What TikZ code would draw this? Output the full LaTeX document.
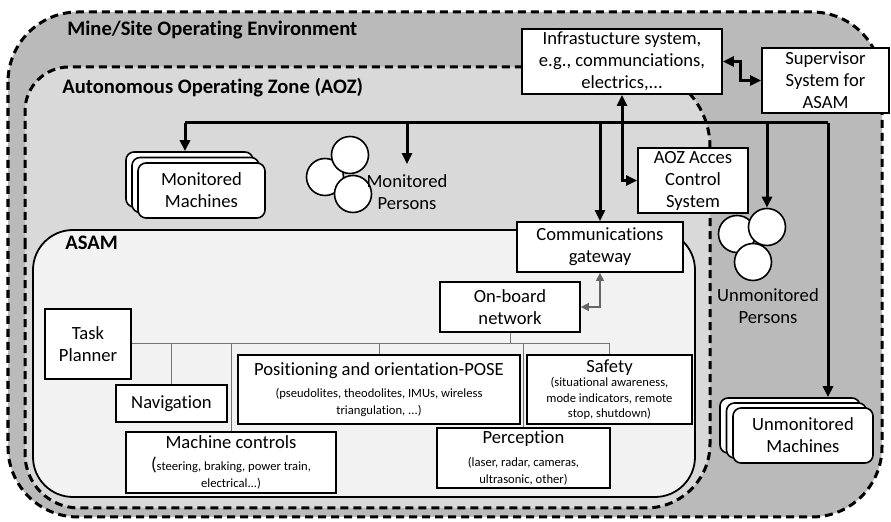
\documentclass[tikz,border=0pt]{standalone}
\usepackage{fontspec}
\setmainfont{Carlito}[Ligatures=NoCommon]
\usetikzlibrary{arrows.meta}
\newcommand\bigtxt{\fontsize{9.3}{11}\selectfont}
\newcommand\smtxt{\fontsize{6.3}{8.7}\selectfont}
\newcommand\smtxtb{\fontsize{6.3}{7.7}\selectfont}
\begin{document}
\begin{tikzpicture}[x=0.5pt,y=-0.5pt,>={Triangle[length=5.5pt,width=5pt]},font=\bigtxt,
	region/.style={line width=1.5pt,dash pattern=on 4pt off 2.5pt},
	title/.style={anchor=west,inner sep=0pt,font=\fontsize{10.3}{12}\selectfont\bfseries},
	box/.style={draw,fill=white,line width=0.9pt,align=center,inner sep=1pt},
	stack/.style={draw,fill=white,line width=0.8pt,rounded corners=4pt,align=center,minimum width=#1,minimum height=27.5pt},
	person/.style={circle,draw,fill=white,line width=0.8pt,minimum size=18.5pt,inner sep=0pt},
	bus/.style={line width=1.5pt},
	treeline/.style={black!55,line width=0.5pt},
	link/.style={black!60,line width=0.6pt,>={Triangle[length=4pt,width=4pt]}}]
	\useasboundingbox (0,0) rectangle (891,522);
	\draw[region,fill=black!27,rounded corners=35pt] (8,12) rectangle (882,517);
	\draw[region,fill=black!15] (25,300) [rounded corners=22pt] -- (25,67) [rounded corners=40pt] -- (710,67) [rounded corners=32pt] -- (710,508) [rounded corners=27pt] -- (25,508) -- cycle;
	\draw[line width=0.9pt,fill=black!5,rounded corners=20pt] (33,230) rectangle (695,497);
	\node[title] (mine) at (67,30) {Mine/Site Operating Environment};
	\node[title] (aoz) at (62,88) {Autonomous Operating Zone (AOZ)};
	\node[title] (asam) at (65,243) {ASAM};

	\node[stack=63.5pt] (mm3) at (189.5,179.5) {};
	\node[stack=63.5pt] (mm2) at (195.5,185) {};
	\node[stack=63.5pt] (mm1) at (201.5,190.5) {Monitored\\Machines};
	\node[stack=70pt] (um3) at (790,425.5) {};
	\node[stack=70pt] (um2) at (796.5,430.5) {};
	\node[stack=70pt] (um1) at (803,435.5) {Unmonitored\\Machines};

	\node[person] (mp1) at (325,177) {};
	\node[person] (mp2) at (350,155) {};
	\node[person] (mp3) at (353,194) {};
	\node[align=center,inner sep=5pt] (monpers) at (407,192) {Monitored\\Persons};
	\node[person] (up1) at (737,234) {};
	\node[person] (up2) at (767,227) {};
	\node[person] (up3) at (753,262) {};
	\node[align=center] (unpers) at (768,306) {Unmonitored\\Persons};

	\node[box,minimum width=100pt,minimum height=32.5pt] (infra) at (622,61.5) {Infrastucture system,\\e.g., communciations,\\electrics,...};
	\node[box,minimum width=63.5pt,minimum height=32.5pt] (supervisor) at (825.5,80.5) {Supervisor\\System for\\ASAM};
	\node[box,minimum width=55pt,minimum height=32.5pt] (access) at (693,180.5) {AOZ Acces\\Control\\System};
	\node[box,minimum width=83pt,minimum height=25pt] (gateway) at (600,247) {Communications\\gateway};
	\node[box,minimum width=70pt,minimum height=25pt] (onboard) at (510,307) {On-board\\network};
	\node[box,minimum width=43pt,minimum height=35pt] (task) at (88,344) {Task\\Planner};
	\node[box,minimum width=55.5pt,minimum height=18.5pt] (nav) at (171.5,403.5) {Navigation};
	\node[box,font=\smtxt,minimum width=141pt,minimum height=34.5pt] (pose) at (379,389.5) {\bigtxt Positioning and orientation-POSE\\[2.3pt](pseudolites, theodolites, IMUs, wireless\\triangulation, ...)};
	\node[box,font=\smtxtb,minimum width=82.5pt,minimum height=34.5pt] (safety) at (609.5,389.5) {\bigtxt Safety\\[-0.3pt](situational awareness,\\mode indicators, remote\\stop, shutdown)};
	\node[box,font=\smtxt,minimum width=105pt,minimum height=30.5pt] (mctrl) at (231,462.5) {\bigtxt Machine controls\\[2.3pt]{\bigtxt(}steering, braking, power train,\\electrical...)};
	\node[box,font=\smtxt,minimum width=86.5pt,minimum height=30pt] (percep) at (523.5,458) {\bigtxt Perception\\[3pt](laser, radar, cameras,\\ultrasonic, other)};

	\coordinate (busL) at (185,123);
	\coordinate (busR) at (828,123);
	\draw[bus] (busL) -- (busR);
	\draw[bus,->] (busL) -- (busL |- mm3.north);
	\draw[bus,->] (monpers.north |- busL) -- (monpers.north);
	\draw[bus,->] (gateway.north |- busL) -- (gateway.north);
	\draw[bus,->] (up2.north |- busL) -- (up2.north);
	\draw[bus,->] (busR) -- (busR |- um3.north);
	\draw[bus,<->] (infra.south) |- (access.west);
	\draw[bus,<->] (infra.east) -- ++(18,0) |- (supervisor.west);
	\draw[link,<->] (onboard.east) -| (gateway.south);

	\draw[treeline] (task.east) -- (safety.north |- task.east) -- (safety.north);
	\draw[treeline] (nav.north |- task.east) -- (nav.north);
	\draw[treeline] (mctrl.north |- task.east) -- (mctrl.north);
	\draw[treeline] (pose.north |- task.east) -- (pose.north);
	\draw[treeline] (onboard.south) -- (onboard.south |- task.east);
	\draw[treeline] (percep.north |- task.east) -- (percep.north);
\end{tikzpicture}
\end{document}
